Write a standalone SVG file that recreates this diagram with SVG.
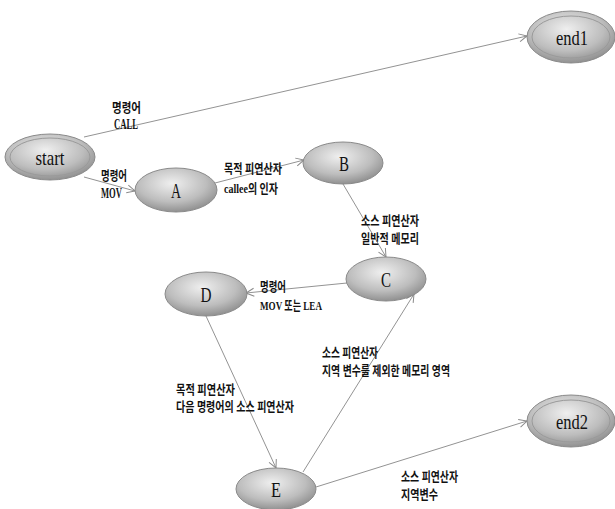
<svg xmlns="http://www.w3.org/2000/svg" width="615" height="509" viewBox="0 0 615 509">
<defs>
<radialGradient id="g" cx="45%" cy="35%" r="70%">
<stop offset="0" stop-color="#efefef"/>
<stop offset="0.6" stop-color="#bdbdbd"/>
<stop offset="1" stop-color="#878787"/>
</radialGradient>
<marker id="arr" markerWidth="10" markerHeight="10" refX="9" refY="5" orient="auto" markerUnits="userSpaceOnUse">
<path d="M1,1 L9,5 L1,9" fill="none" stroke="#8a8a8a" stroke-width="1"/>
</marker>
</defs>
<style>
.n{fill:url(#g);stroke:#8a8a8a;stroke-width:1}
.in{fill:none;stroke:#9a9a9a;stroke-width:1}
.nl{font-family:"Liberation Serif","Noto Serif",serif;font-size:22px;fill:#111;text-anchor:middle}
.e{fill:none;stroke:#939393;stroke-width:1;marker-end:url(#arr)}
.l{font-family:"Liberation Serif","Noto Sans CJK KR",serif;font-size:13px;font-weight:bold;fill:#111}
.lt{font-family:"Liberation Serif",serif;font-size:14px;font-weight:bold;fill:#111}
</style>
<rect width="615" height="509" fill="#fff"/>
<g id="edges">
<line class="e" x1="84" y1="137" x2="527" y2="36"/>
<line class="e" x1="84" y1="177" x2="135" y2="191"/>
<line class="e" x1="215" y1="183" x2="304" y2="160"/>
<line class="e" x1="343" y1="184" x2="386" y2="257"/>
<line class="e" x1="347" y1="283" x2="246" y2="293"/>
<line class="e" x1="206" y1="316" x2="276" y2="468"/>
<line class="e" x1="303" y1="472" x2="414" y2="294"/>
<line class="e" x1="316" y1="487" x2="527" y2="421"/>
</g>
<g id="labels">
<text class="l" x="112" y="112" textLength="29" lengthAdjust="spacingAndGlyphs">명령어</text>
<text class="lt" x="114" y="129" textLength="24" lengthAdjust="spacingAndGlyphs">CALL</text>
<text class="l" x="101" y="180" textLength="26" lengthAdjust="spacingAndGlyphs">명령어</text>
<text class="lt" x="101" y="198" textLength="21" lengthAdjust="spacingAndGlyphs">MOV</text>
<text class="l" x="224" y="173" textLength="58" lengthAdjust="spacingAndGlyphs">목적 피연산자</text>
<text class="l" x="224" y="193" textLength="54" lengthAdjust="spacingAndGlyphs">callee의 인자</text>
<text class="l" x="361" y="225" textLength="58" lengthAdjust="spacingAndGlyphs">소스 피연산자</text>
<text class="l" x="361" y="243" textLength="58" lengthAdjust="spacingAndGlyphs">일반적 메모리</text>
<text class="l" x="260" y="291" textLength="26" lengthAdjust="spacingAndGlyphs">명령어</text>
<text class="l" x="260" y="310" textLength="62" lengthAdjust="spacingAndGlyphs">MOV 또는 LEA</text>
<text class="l" x="322" y="357" textLength="56" lengthAdjust="spacingAndGlyphs">소스 피연산자</text>
<text class="l" x="322" y="375" textLength="128" lengthAdjust="spacingAndGlyphs">지역 변수를 제외한 메모리 영역</text>
<text class="l" x="176" y="394" textLength="59" lengthAdjust="spacingAndGlyphs">목적 피연산자</text>
<text class="l" x="176" y="411" textLength="118" lengthAdjust="spacingAndGlyphs">다음 명령어의 소스 피연산자</text>
<text class="l" x="401" y="481" textLength="57" lengthAdjust="spacingAndGlyphs">소스 피연산자</text>
<text class="l" x="401" y="499" textLength="37" lengthAdjust="spacingAndGlyphs">지역변수</text>
</g>
<g id="start">
<ellipse class="n" cx="50" cy="157" rx="45" ry="23"/>
<ellipse class="in" cx="50" cy="157" rx="40" ry="19"/>
<text class="nl" x="50" y="165" textLength="29" lengthAdjust="spacingAndGlyphs">start</text>
</g>
<g id="end1">
<ellipse class="n" cx="571" cy="37" rx="44" ry="26"/>
<ellipse class="in" cx="571" cy="37" rx="39" ry="21"/>
<text class="nl" x="572" y="45" textLength="32" lengthAdjust="spacingAndGlyphs">end1</text>
</g>
<g id="A">
<ellipse class="n" cx="176" cy="190" rx="41" ry="22"/>
<text class="nl" x="176" y="198" textLength="10" lengthAdjust="spacingAndGlyphs">A</text>
</g>
<g id="B">
<ellipse class="n" cx="343" cy="163" rx="40" ry="21"/>
<text class="nl" x="344" y="171" textLength="10" lengthAdjust="spacingAndGlyphs">B</text>
</g>
<g id="C">
<ellipse class="n" cx="386" cy="279" rx="40" ry="22"/>
<text class="nl" x="386" y="287" textLength="10" lengthAdjust="spacingAndGlyphs">C</text>
</g>
<g id="D">
<ellipse class="n" cx="206" cy="294" rx="41" ry="22"/>
<text class="nl" x="206" y="302" textLength="11" lengthAdjust="spacingAndGlyphs">D</text>
</g>
<g id="E">
<ellipse class="n" cx="276" cy="489" rx="40" ry="21"/>
<text class="nl" x="276" y="497" textLength="10" lengthAdjust="spacingAndGlyphs">E</text>
</g>
<g id="end2">
<ellipse class="n" cx="571" cy="421" rx="44" ry="26"/>
<ellipse class="in" cx="571" cy="421" rx="39" ry="21"/>
<text class="nl" x="572" y="429" textLength="32" lengthAdjust="spacingAndGlyphs">end2</text>
</g>
</svg>
